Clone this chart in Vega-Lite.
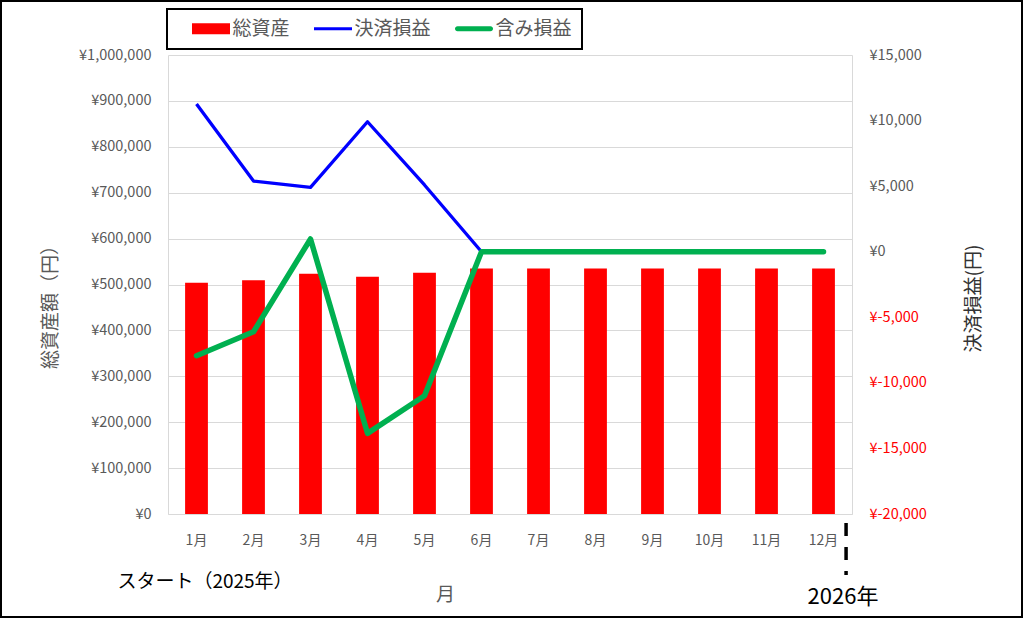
{
  "$schema": "https://vega.github.io/schema/vega-lite/v6.json",
  "autosize": "none",
  "width": 684,
  "height": 459,
  "padding": {"left": 168, "top": 55, "right": 172, "bottom": 114},
  "background": "white",
  "config": {
    "font": "Noto Sans CJK JP",
    "view": {"stroke": null},
    "scale": {"bandPaddingInner": 0.6, "bandPaddingOuter": 0.3}
  },
  "data": {
    "values": [
      {"month": "1月", "total": 503700, "realized": 11260, "unrealized": -7930},
      {"month": "2月", "total": 509400, "realized": 5390, "unrealized": -6100},
      {"month": "3月", "total": 523400, "realized": 4910, "unrealized": 970},
      {"month": "4月", "total": 516800, "realized": 9910, "unrealized": -13850},
      {"month": "5月", "total": 525500, "realized": 5090, "unrealized": -10980},
      {"month": "6月", "total": 535000, "realized": 0, "unrealized": 0},
      {"month": "7月", "total": 535000, "realized": 0, "unrealized": 0},
      {"month": "8月", "total": 535000, "realized": 0, "unrealized": 0},
      {"month": "9月", "total": 535000, "realized": 0, "unrealized": 0},
      {"month": "10月", "total": 535000, "realized": 0, "unrealized": 0},
      {"month": "11月", "total": 535000, "realized": 0, "unrealized": 0},
      {"month": "12月", "total": 535000, "realized": 0, "unrealized": 0}
    ]
  },
  "layer": [
    {
      "layer": [
        {
          "mark": {"type": "bar"},
          "encoding": {
            "x": {
              "field": "month", "type": "ordinal",
              "scale": {"domain": ["1月","2月","3月","4月","5月","6月","7月","8月","9月","10月","11月","12月"]},
              "axis": {
                "labelAngle": 0, "labelColor": "#595959", "labelFontSize": 14, "labelPadding": 19,
                "ticks": false, "domainColor": "#D9D9D9", "grid": false,
                "title": "月", "titleColor": "#595959", "titleFontSize": 19, "titleFontWeight": "normal",
                "titleX": 277, "titleY": 80, "titleAlign": "center", "titleBaseline": "middle"
              }
            },
            "y": {
              "field": "total", "type": "quantitative",
              "scale": {"domain": [0, 1000000]},
              "axis": {
                "values": [0,100000,200000,300000,400000,500000,600000,700000,800000,900000,1000000],
                "labelExpr": "'¥' + format(datum.value, ',')",
                "labelColor": "#595959", "labelFontSize": 14.5, "labelPadding": 17,
                "ticks": false, "domainColor": "#D9D9D9", "grid": true, "gridColor": "#D9D9D9",
                "title": "総資産額（円）", "titleColor": "#595959", "titleFontSize": 19, "titleFontWeight": "normal",
                "titleAngle": 270, "titleX": -118, "titleY": 247, "titleAlign": "center", "titleBaseline": "middle"
              }
            },
            "color": {
              "datum": "総資産",
              "scale": {"domain": ["総資産", "決済損益", "含み損益"], "range": ["#FF0000", "#0000FF", "#00B050"]},
              "legend": {
                "orient": "none", "legendX": -1, "legendY": -46, "direction": "horizontal",
                "title": null, "padding": 10, "strokeColor": "black",
                "labelFontSize": 19, "labelColor": "#595959",
                "symbolSize": 361, "symbolOffset": 24.5, "labelOffset": 12, "columnPadding": 9,
                "encode": {
                  "legend": {"update": {"strokeWidth": {"value": 2}}},
                  "symbols": {
                    "update": {
                      "shape": {"signal": "datum.value === '総資産' ? 'M-2,-0.58H2V0.58H-2Z' : datum.value === '決済損益' ? 'M-2,-0.17H2V0.17H-2Z' : 'M-1.74,-0.26H1.74A0.26,0.26 0 0 1 1.74,0.26H-1.74A0.26,0.26 0 0 1 -1.74,-0.26Z'"},
                      "fill": {"scale": "color", "field": "value"},
                      "stroke": {"value": "transparent"},
                      "strokeWidth": {"value": 0},
                      "opacity": {"value": 1}
                    }
                  }
                }
              }
            }
          }
        },
        {
          "data": {"values": [{"label": "スタート（2025年）"}]},
          "mark": {"type": "text", "fontSize": 19, "color": "black", "align": "center", "baseline": "middle", "dx": 8.5},
          "encoding": {
            "x": {"datum": "1月", "type": "ordinal"},
            "y": {"datum": -148000, "type": "quantitative"},
            "text": {"field": "label"}
          }
        },
        {
          "data": {"values": [{"label": "2026年"}]},
          "mark": {"type": "text", "fontSize": 22, "color": "black", "align": "center", "baseline": "middle", "dx": 19.5},
          "encoding": {
            "x": {"datum": "12月", "type": "ordinal"},
            "y": {"datum": -181000, "type": "quantitative"},
            "text": {"field": "label"}
          }
        },
        {
          "data": {"values": [{}]},
          "mark": {"type": "rule", "color": "black", "strokeWidth": 3.5, "strokeDash": [13, 11]},
          "encoding": {
            "x": {"datum": "12月", "type": "ordinal", "bandPosition": 1.49},
            "y": {"datum": -19600, "type": "quantitative"},
            "y2": {"datum": -132900}
          }
        }
      ]
    },
    {
      "encoding": {
        "x": {
          "field": "month", "type": "ordinal",
          "scale": {"domain": ["1月","2月","3月","4月","5月","6月","7月","8月","9月","10月","11月","12月"]},
          "axis": null
        }
      },
      "layer": [
        {
          "mark": {"type": "line", "strokeWidth": 3.3, "strokeJoin": "round"},
          "encoding": {
            "y": {
              "field": "realized", "type": "quantitative",
              "scale": {"domain": [-20000, 15000]},
              "axis": {
                "orient": "right",
                "values": [-20000,-15000,-10000,-5000,0,5000,10000,15000],
                "labelExpr": "datum.value < 0 ? '¥-' + format(-datum.value, ',') : '¥' + format(datum.value, ',')",
                "labelColor": {"condition": {"test": "datum.value < 0", "value": "#FF0000"}, "value": "#595959"},
                "labelFontSize": 14.5, "labelPadding": 17,
                "ticks": false, "domainColor": "#D9D9D9", "grid": false,
                "title": "決済損益(円)", "titleColor": "#333333", "titleFontSize": 19, "titleFontWeight": "normal",
                "titleAngle": 270, "titleX": 121, "titleY": 243, "titleAlign": "center", "titleBaseline": "middle"
              }
            },
            "color": {"datum": "決済損益"}
          }
        },
        {
          "mark": {"type": "line", "strokeWidth": 5.5, "strokeJoin": "round", "strokeCap": "round"},
          "encoding": {
            "y": {"field": "unrealized", "type": "quantitative"},
            "color": {"datum": "含み損益"}
          }
        }
      ]
    },
    {
      "data": {"values": [{}]},
      "mark": {"type": "rect", "fill": null, "stroke": "black", "strokeWidth": 2},
      "encoding": {
        "x": {"datum": -0.24415, "type": "quantitative", "scale": {"domain": [0, 1], "nice": false, "zero": false}, "axis": null},
        "x2": {"datum": 1.24854},
        "y": {"datum": 1.11765, "type": "quantitative", "scale": {"domain": [0, 1], "nice": false, "zero": false}, "axis": null},
        "y2": {"datum": -0.2244}
      }
    }
  ],
  "resolve": {"scale": {"x": "independent", "y": "independent"}}
}
